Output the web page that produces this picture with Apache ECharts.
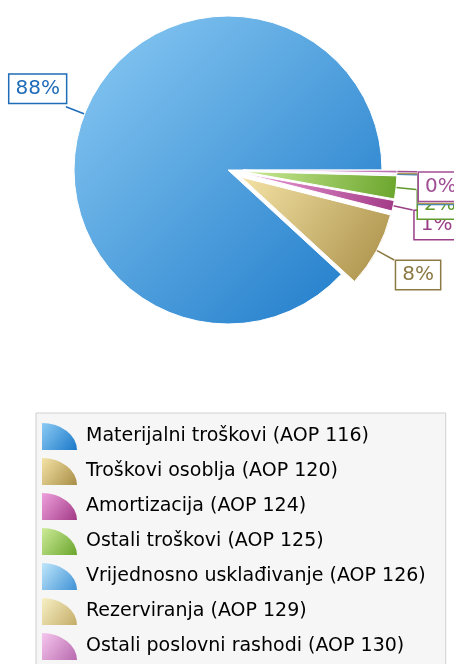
<!DOCTYPE html>
<html>
<head>
<meta charset="utf-8">
<script src="https://cdn.jsdelivr.net/npm/echarts@6/dist/echarts.min.js"></script>
<style>
html,body{margin:0;padding:0;background:#fff;}
#chart{width:454px;height:664px;}
</style>
</head>
<body>
<div id="chart"></div>
<script>
// ---- data ----
const categories = [
  'Materijalni troškovi (AOP 116)',
  'Troškovi osoblja (AOP 120)',
  'Amortizacija (AOP 124)',
  'Ostali troškovi (AOP 125)',
  'Vrijednosno usklađivanje (AOP 126)',
  'Rezerviranja (AOP 129)',
  'Ostali poslovni rashodi (AOP 130)'
];
const values = [88.2, 7.9, 1.1, 2.4, 0.1, 0.05, 0.3];
const exploded = [false, true, true, true, true, true, true];

// ---- styles ----
const lightColors = ['#8ccbf4', '#f4e3a6', '#eea0dc', '#cdeb98', '#bfe6fa', '#f7f0c4', '#f6c6ee'];
const darkColors  = ['#1a78c8', '#a88d46', '#a23a86', '#6aa52c', '#3f92d6', '#c4ac68', '#b86aae'];
const labelColors = ['#1f6cb8', '#8c7a45', '#9a3f86', '#5f9a2a', '#2f7fc6', '#b09a58', '#a04e94'];

const total = values.reduce((a, b) => a + b, 0);

function grad(i) {
  return new echarts.graphic.LinearGradient(0, 0, 1, 1, [
    { offset: 0, color: lightColors[i] },
    { offset: 1, color: darkColors[i] }
  ]);
}

const data = categories.map((name, i) => ({
  name: name,
  value: values[i],
  selected: exploded[i],
  itemStyle: { color: grad(i) },
  label: { color: labelColors[i], borderColor: labelColors[i] },
  labelLine: { lineStyle: { color: labelColors[i] } }
}));

const chart = echarts.init(document.getElementById('chart'), null, { renderer: 'canvas' });
chart.setOption({
  animation: false,
  backgroundColor: '#ffffff',
  legend: {
    orient: 'vertical',
    left: 36,
    top: 413,
    height: 260,
    itemWidth: 35,
    itemHeight: 27,
    itemGap: 8,
    icon: 'path://M0,100 L0,0 A100,100 0 0 1 100,100 Z',
    symbolKeepAspect: false,
    selectedMode: false,
    itemStyle: { borderWidth: 0 },
    backgroundColor: '#f6f6f6',
    borderColor: '#cfcfcf',
    borderWidth: 1,
    borderRadius: 0,
    padding: [10, 20, 30, 6],
    textStyle: {
      fontFamily: 'DejaVu Sans',
      fontSize: 19,
      color: '#000',
      padding: [0, 0, 0, 4]
    },
    data: categories
  },
  series: [{
    type: 'pie',
    center: [228, 170],
    radius: 154,
    startAngle: 0,
    clockwise: false,
    selectedMode: 'multiple',
    selectedOffset: 15,
    avoidLabelOverlap: false,
    itemStyle: { borderColor: '#ffffff', borderWidth: 1 },
    emphasis: { disabled: true },
    label: {
      show: true,
      position: 'outside',
      fontFamily: 'DejaVu Sans',
      fontSize: 20,
      backgroundColor: '#ffffff',
      borderWidth: 1.5,
      padding: [5, 6, 3, 6],
      distanceToLabelLine: 0,
      formatter: function (p) {
        return Math.round(p.value / total * 100) + '%';
      }
    },
    labelLayout: function (p) {
      return p.labelRect.x < 228 ? { dy: -18 } : { dy: 15, dx: 2 };
    },
    labelLine: { show: true, length: 20, length2: 0, smooth: false, lineStyle: { width: 1.5 } },
    data: data
  }]
});
</script>
</body>
</html>
